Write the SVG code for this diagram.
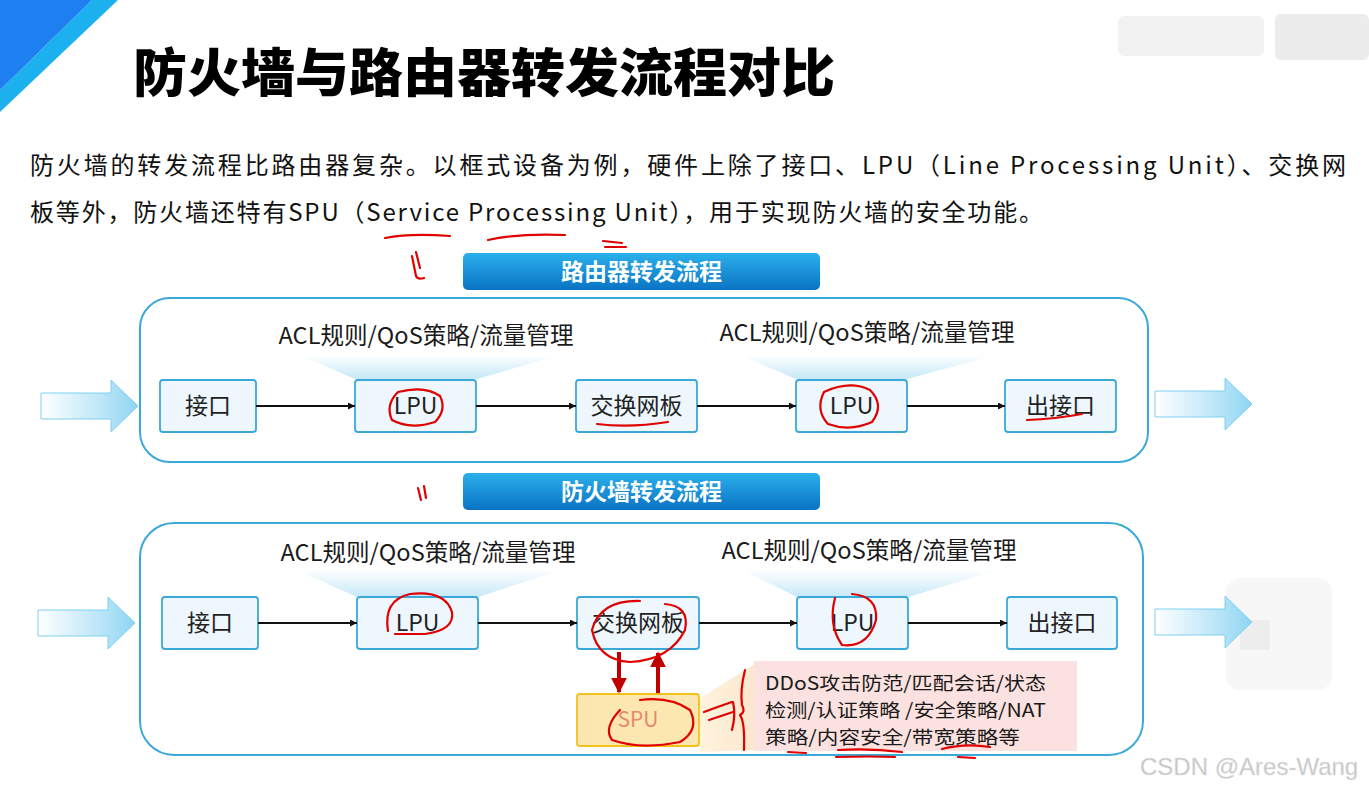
<svg xmlns="http://www.w3.org/2000/svg" width="1369" height="790" viewBox="0 0 1369 790">
<defs>
<style>
.title{font-family:"Noto Sans CJK SC","Noto Sans",sans-serif;font-weight:900;font-size:52px;fill:#000}
.para{font-family:"Noto Sans CJK SC","Open Sans",sans-serif;font-size:24px;fill:#111}
.banner-t{font-family:"Noto Sans CJK SC",sans-serif;font-weight:700;font-size:23px;fill:#fff}
.lbl{font-family:"Noto Sans CJK SC","Open Sans",sans-serif;font-size:23.5px;fill:#1a1a1a}
.nd{font-family:"Noto Sans CJK SC","Open Sans",sans-serif;font-size:23px;fill:#222}
.box{fill:#eef7fd;stroke:#3aa9d9;stroke-width:1.8}
.panel{fill:#fff;stroke:#3aa9d9;stroke-width:2}
.conn{stroke:#111;stroke-width:2;fill:none}
.red{stroke:#c00000;stroke-width:4;fill:none}
.pen{stroke:#e00000;stroke-width:2.2;fill:none;stroke-linecap:round;stroke-linejoin:round}
.small{font-family:"Noto Sans CJK SC","Open Sans",sans-serif;font-size:18.5px;fill:#1a1a1a}
</style>
<linearGradient id="bannerG" x1="0" y1="0" x2="0" y2="1">
<stop offset="0" stop-color="#2bb0ec"/><stop offset="1" stop-color="#0a73c4"/>
</linearGradient>
<linearGradient id="fatG" x1="0" y1="0" x2="1" y2="0">
<stop offset="0" stop-color="#ffffff"/><stop offset="0.6" stop-color="#bfe7f8"/><stop offset="1" stop-color="#8fd5f2"/>
</linearGradient>
<linearGradient id="glowG" x1="0" y1="0" x2="0" y2="1">
<stop offset="0" stop-color="#ffffff"/><stop offset="1" stop-color="#c6e8f7"/>
</linearGradient>
<linearGradient id="spuGlow" x1="0" y1="0" x2="1" y2="0">
<stop offset="0" stop-color="#fff4dc"/><stop offset="1" stop-color="#fbe6cf"/>
</linearGradient>
<marker id="ah" viewBox="0 0 10 10" refX="10" refY="5" markerWidth="7" markerHeight="7" markerUnits="userSpaceOnUse" orient="auto">
<path d="M0,0 L10,5 L0,10 z" fill="#111"/>
</marker>
<marker id="rh" viewBox="0 0 10 10" refX="9" refY="5" markerWidth="4" markerHeight="4" orient="auto">
<path d="M0,0 L10,5 L0,10 z" fill="#c00000"/>
</marker>
<path id="fat" d="M0,-13 L70,-13 L70,-26 L97,0 L70,26 L70,13 L0,13 z"/>
</defs>

<rect width="1369" height="790" fill="#ffffff"/>

<!-- corner decoration -->
<polygon points="92,0 118,0 0,112 0,90" fill="#1cb0ee"/>
<polygon points="0,0 92,0 0,90" fill="#1d7ff0"/>

<!-- blurred mosaic areas -->
<g id="mosaic" fill="#f2f2f2">
<rect x="1118" y="16" width="146" height="40" rx="6"/>
<rect x="1275" y="14" width="94" height="46" rx="6" fill="#ececec"/>
<rect x="1226" y="578" width="106" height="112" rx="14" fill="#f7f7f7"/>
<rect x="1240" y="620" width="30" height="30" fill="#ededed"/>
</g>

<text class="title" x="133" y="92" textLength="702" lengthAdjust="spacingAndGlyphs">防火墙与路由器转发流程对比</text>

<text class="para" x="30" y="174" textLength="1316" lengthAdjust="spacing">防火墙的转发流程比路由器复杂。以框式设备为例，硬件上除了接口、LPU（Line Processing Unit）、交换网</text>
<text class="para" x="30" y="221" textLength="1013" lengthAdjust="spacing">板等外，防火墙还特有SPU（Service Processing Unit），用于实现防火墙的安全功能。</text>

<!-- ===== Router flow ===== -->
<g id="banner-router">
<rect x="463" y="253" width="357" height="37" rx="5" fill="url(#bannerG)"/>
<text class="banner-t" x="641.5" y="280" text-anchor="middle">路由器转发流程</text>
</g>
<g id="panel-router">
<rect class="panel" x="140" y="298" width="1008" height="164" rx="30"/>
</g>
<g id="glow-router">
<polygon points="300,355 560,355 477,379 355,379" fill="url(#glowG)"/>
<polygon points="740,355 996,355 907,379 796,379" fill="url(#glowG)"/>
<text class="lbl" x="426" y="344" text-anchor="middle" textLength="295" lengthAdjust="spacingAndGlyphs">ACL规则/QoS策略/流量管理</text>
<text class="lbl" x="867" y="341" text-anchor="middle" textLength="295" lengthAdjust="spacingAndGlyphs">ACL规则/QoS策略/流量管理</text>
</g>
<g id="r-in"><use href="#fat" x="41" y="406" fill="url(#fatG)" stroke="#7fd0f0" stroke-width="1"/></g>
<g id="r-out"><use href="#fat" x="1155" y="404" fill="url(#fatG)" stroke="#7fd0f0" stroke-width="1"/></g>
<g id="r-if"><rect class="box" x="160" y="380" width="96" height="52" rx="3"/><text class="nd" x="208" y="414" text-anchor="middle">接口</text></g>
<g id="r-lpu1"><rect class="box" x="355" y="380" width="121" height="52" rx="3"/><text class="nd" x="415.5" y="414" text-anchor="middle">LPU</text></g>
<g id="r-sw"><rect class="box" x="576" y="380" width="121" height="52" rx="3"/><text class="nd" x="636.5" y="414" text-anchor="middle">交换网板</text></g>
<g id="r-lpu2"><rect class="box" x="796" y="380" width="111" height="52" rx="3"/><text class="nd" x="851.5" y="414" text-anchor="middle">LPU</text></g>
<g id="r-out-if"><rect class="box" x="1005" y="380" width="111" height="52" rx="3"/><text class="nd" x="1060.5" y="414" text-anchor="middle">出接口</text></g>

<!-- ===== Firewall flow ===== -->
<g id="banner-fw">
<rect x="463" y="473" width="357" height="37" rx="5" fill="url(#bannerG)"/>
<text class="banner-t" x="641.5" y="500" text-anchor="middle">防火墙转发流程</text>
</g>
<g id="panel-fw">
<rect class="panel" x="140" y="523" width="1003" height="232" rx="34"/>
</g>
<g id="glow-fw">
<polygon points="297,570 562,570 478,597 357,597" fill="url(#glowG)"/>
<polygon points="742,570 998,570 908,597 797,597" fill="url(#glowG)"/>
<text class="lbl" x="428" y="561" text-anchor="middle" textLength="295" lengthAdjust="spacingAndGlyphs">ACL规则/QoS策略/流量管理</text>
<text class="lbl" x="869" y="559" text-anchor="middle" textLength="295" lengthAdjust="spacingAndGlyphs">ACL规则/QoS策略/流量管理</text>
</g>
<g id="f-in"><use href="#fat" x="38" y="623" fill="url(#fatG)" stroke="#7fd0f0" stroke-width="1"/></g>
<g id="f-out"><use href="#fat" x="1155" y="622" fill="url(#fatG)" stroke="#7fd0f0" stroke-width="1"/></g>
<g id="f-if"><rect class="box" x="162" y="597" width="96" height="52" rx="3"/><text class="nd" x="210" y="631" text-anchor="middle">接口</text></g>
<g id="f-lpu1"><rect class="box" x="357" y="597" width="121" height="52" rx="3"/><text class="nd" x="417.5" y="631" text-anchor="middle">LPU</text></g>
<g id="f-sw"><rect class="box" x="577" y="597" width="122" height="52" rx="3"/><text class="nd" x="638" y="631" text-anchor="middle">交换网板</text></g>
<g id="f-lpu2"><rect class="box" x="797" y="597" width="111" height="52" rx="3"/><text class="nd" x="852.5" y="631" text-anchor="middle">LPU</text></g>
<g id="f-out-if"><rect class="box" x="1007" y="597" width="110" height="52" rx="3"/><text class="nd" x="1062" y="631" text-anchor="middle">出接口</text></g>

<g id="spu-glow"><polygon points="700,698 755,664 755,750 700,752" fill="url(#spuGlow)"/></g>
<g id="f-spu"><rect x="577" y="694" width="122" height="52" rx="3" fill="#fde7b0" stroke="#f3c21a" stroke-width="1.8"/><text x="638" y="727" text-anchor="middle" font-family="Noto Sans CJK SC, Open Sans, sans-serif" font-size="21" fill="#e48a6e">SPU</text></g>
<g id="f-info">
<rect x="754" y="661" width="323" height="90" fill="#fbe2e0"/>
<text class="small" x="765" y="690" textLength="281" lengthAdjust="spacingAndGlyphs">DDoS攻击防范/匹配会话/状态</text>
<text class="small" x="765" y="717" textLength="281" lengthAdjust="spacingAndGlyphs">检测/认证策略 /安全策略/NAT</text>
<text class="small" x="765" y="744" textLength="255" lengthAdjust="spacingAndGlyphs">策略/内容安全/带宽策略等</text>
</g>

<g id="connectors">
<line class="conn" x1="256" y1="406" x2="355" y2="406" marker-end="url(#ah)"/>
<line class="conn" x1="476" y1="406" x2="576" y2="406" marker-end="url(#ah)"/>
<line class="conn" x1="697" y1="406" x2="796" y2="406" marker-end="url(#ah)"/>
<line class="conn" x1="907" y1="406" x2="1005" y2="406" marker-end="url(#ah)"/>
<line class="conn" x1="258" y1="623" x2="357" y2="623" marker-end="url(#ah)"/>
<line class="conn" x1="478" y1="623" x2="577" y2="623" marker-end="url(#ah)"/>
<line class="conn" x1="699" y1="623" x2="797" y2="623" marker-end="url(#ah)"/>
<line class="conn" x1="908" y1="623" x2="1007" y2="623" marker-end="url(#ah)"/>
<line class="red" x1="619" y1="652" x2="619" y2="692" marker-end="url(#rh)"/>
<line class="red" x1="658" y1="693" x2="658" y2="653" marker-end="url(#rh)"/>
</g>

<!-- hand-drawn annotations -->
<g id="annotations" class="pen">
<path d="M385,238 Q410,233 450,236"/>
<path d="M488,240 Q520,233 565,235"/>
<path d="M603,241 L622,243 M605,247 L626,247"/>
<path d="M416,252 L420,268 M412,256 L416,276 Q418,280 424,278"/>
<path d="M418,488 L421,500 M424,486 L426,498"/>
<path d="M398,392 Q385,405 392,420 Q410,430 435,422 Q447,410 440,396 Q425,385 398,392"/>
<path d="M824,392 Q815,410 828,424 Q850,432 872,422 Q885,405 870,390 Q850,380 824,392"/>
<path d="M597,424 Q630,428 668,422"/>
<path d="M1027,420 Q1055,419 1082,414"/>
<path d="M388,631 Q383,600 410,594 Q445,590 452,612 Q455,630 425,634 L395,634"/>
<path d="M640,601 Q600,600 592,630 Q598,660 630,662 Q670,660 685,630 Q690,606 665,604"/>
<path d="M835,598 Q828,625 842,645 Q868,648 876,620 Q878,596 852,594"/>
<path d="M620,710 Q603,728 612,740 Q640,750 680,742 Q700,730 690,710 Q670,696 640,700"/>
<path d="M704,712 Q720,706 732,702 M709,720 L733,712 M733,702 Q736,715 732,730"/>
<path d="M745,670 Q740,690 742,705 Q746,712 740,715 Q745,722 744,750"/>
<path d="M788,752 L806,753 M838,750 Q870,748 902,752 M836,757 Q870,756 895,757 M942,749 Q965,743 990,747 M958,757 L975,758"/>
</g>

<text x="1140" y="775" font-family="Liberation Sans, Arial, sans-serif" font-size="24" fill="#c4c4c4" stroke="#e6e6e6" stroke-width="0.5">CSDN @Ares-Wang</text>
</svg>
